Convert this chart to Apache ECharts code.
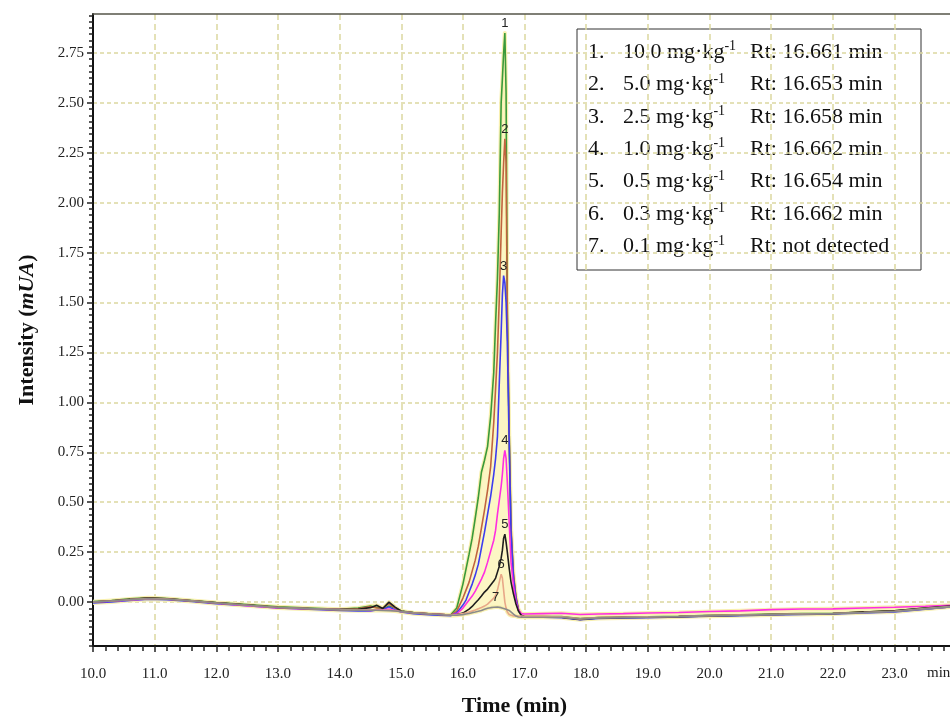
<!DOCTYPE html>
<html style="height: 100%" lang="en">

<head>
  <meta charset="utf-8">
  <script type="text/javascript" src="https://cdn.jsdelivr.net/npm/echarts@6.0.0/dist/echarts.min.js"></script>
</head>

<body style="height: 100%; margin: 0; background: #fff">
  <div id="container" style="width: 950px; height: 720px"></div>
  <script type="text/javascript">
    // retention time axis (min): coarse before/after the peak, fine across it
    var times = [
      10.0, 10.3, 10.6, 10.9, 11.2, 11.6, 12.0, 12.5, 13.0, 13.5, 14.0, 14.3, 14.5, 14.6, 14.7, 14.8, 14.9, 15.0, 15.2, 15.5, 15.8, 15.9,
      16.0, 16.05, 16.1, 16.15, 16.2, 16.25, 16.3, 16.35, 16.4, 16.45, 16.5, 16.53, 16.56, 16.59, 16.62, 16.64, 16.66, 16.68, 16.70, 16.72, 16.75, 16.78, 16.82, 16.86, 16.90, 16.95, 17.0,
      17.3, 17.6, 17.9, 18.2, 18.6, 19.0, 19.5, 20.0, 20.5, 21.0, 21.5, 22.0, 22.5, 23.0, 23.5, 23.9
    ];

    // intensity (mUA) of each spiked level, same order as times
    var s10 = [
      0.002, 0.008, 0.016, 0.022, 0.018, 0.008, -0.002, -0.013, -0.024, -0.030, -0.036, -0.030, -0.020, -0.026, -0.034, -0.020, -0.030, -0.045, -0.053, -0.060, -0.065, -0.030,
      0.09, 0.165, 0.24, 0.32, 0.42, 0.525, 0.65, 0.71, 0.78, 0.93, 1.15, 1.4, 1.62, 1.95, 2.5, 2.62, 2.75, 2.85, 2.55, 1.45, 0.85, 0.35, 0.13, 0.02, -0.04, -0.068, -0.072,
      -0.072, -0.073, -0.082, -0.077, -0.075, -0.074, -0.071, -0.066, -0.064, -0.060, -0.058, -0.056, -0.050, -0.044, -0.030, -0.020
    ];
    var s5 = [
      0.000, 0.006, 0.014, 0.020, 0.016, 0.006, -0.004, -0.015, -0.026, -0.032, -0.038, -0.034, -0.022, -0.030, -0.030, -0.008, -0.030, -0.046, -0.054, -0.060, -0.065, -0.045,
      0.02, 0.06, 0.1, 0.155, 0.21, 0.28, 0.37, 0.46, 0.56, 0.68, 0.9, 1.07, 1.25, 1.52, 1.85, 2.05, 2.2, 2.32, 2.2, 1.45, 0.85, 0.38, 0.14, 0.03, -0.035, -0.065, -0.072,
      -0.073, -0.075, -0.084, -0.078, -0.076, -0.075, -0.072, -0.067, -0.065, -0.062, -0.060, -0.057, -0.050, -0.045, -0.034, -0.024
    ];
    var s2_5 = [
      -0.005, 0.000, 0.008, 0.014, 0.012, 0.003, -0.008, -0.018, -0.030, -0.036, -0.042, -0.044, -0.044, -0.040, -0.038, -0.024, -0.040, -0.050, -0.058, -0.064, -0.068, -0.055,
      -0.015, 0.01, 0.05, 0.09, 0.135, 0.19, 0.27, 0.35, 0.44, 0.53, 0.64, 0.72, 0.83, 1.1, 1.35, 1.54, 1.635, 1.6, 1.5, 1.3, 0.8, 0.35, 0.12, 0.02, -0.04, -0.068, -0.075,
      -0.076, -0.078, -0.088, -0.082, -0.080, -0.078, -0.075, -0.071, -0.068, -0.065, -0.062, -0.060, -0.054, -0.050, -0.036, -0.025
    ];
    var s1 = [
      0.000, 0.004, 0.010, 0.016, 0.014, 0.005, -0.006, -0.018, -0.030, -0.035, -0.038, -0.040, -0.042, -0.040, -0.040, -0.035, -0.042, -0.048, -0.055, -0.060, -0.065, -0.060,
      -0.03, -0.01, 0.01, 0.03, 0.055, 0.085, 0.115, 0.15, 0.2, 0.255, 0.31, 0.36, 0.44, 0.51, 0.58, 0.64, 0.72, 0.76, 0.72, 0.6, 0.4, 0.2, 0.08, 0.0, -0.04, -0.058, -0.06,
      -0.058, -0.056, -0.062, -0.060, -0.058, -0.055, -0.052, -0.047, -0.044, -0.038, -0.035, -0.034, -0.030, -0.026, -0.021, -0.016
    ];
    var s0_5 = [
      0.000, 0.005, 0.013, 0.020, 0.016, 0.006, -0.004, -0.015, -0.027, -0.033, -0.038, -0.036, -0.028, -0.016, -0.032, 0.000, -0.025, -0.046, -0.054, -0.060, -0.065, -0.062,
      -0.055, -0.045, -0.035, -0.022, -0.005, 0.012, 0.03, 0.05, 0.065, 0.085, 0.105, 0.12, 0.15, 0.18, 0.22, 0.26, 0.32, 0.34, 0.3, 0.25, 0.17, 0.1, 0.04, -0.01, -0.045, -0.068, -0.075,
      -0.074, -0.076, -0.087, -0.080, -0.077, -0.076, -0.073, -0.069, -0.066, -0.062, -0.060, -0.058, -0.050, -0.044, -0.030, -0.020
    ];
    var s0_3 = [
      0.000, 0.005, 0.012, 0.018, 0.015, 0.006, -0.005, -0.016, -0.027, -0.033, -0.038, -0.040, -0.040, -0.040, -0.041, -0.040, -0.044, -0.047, -0.054, -0.060, -0.065, -0.063,
      -0.058, -0.055, -0.05, -0.045, -0.04, -0.033, -0.027, -0.02, -0.01, 0.005, 0.02, 0.035, 0.06, 0.1, 0.14, 0.12, 0.06, 0.0, -0.03, -0.05, -0.062, -0.068, -0.07, -0.07, -0.07, -0.07, -0.072,
      -0.072, -0.074, -0.084, -0.078, -0.076, -0.074, -0.072, -0.068, -0.065, -0.062, -0.059, -0.057, -0.052, -0.046, -0.033, -0.023
    ];
    var s0_1 = [
      0.000, 0.005, 0.012, 0.017, 0.014, 0.005, -0.005, -0.016, -0.027, -0.033, -0.039, -0.041, -0.041, -0.041, -0.042, -0.043, -0.045, -0.048, -0.055, -0.061, -0.066, -0.066,
      -0.063, -0.06, -0.057, -0.053, -0.05, -0.046, -0.042, -0.036, -0.031, -0.028, -0.026, -0.025, -0.025, -0.026, -0.028, -0.03, -0.032, -0.034, -0.036, -0.038, -0.042, -0.05, -0.06, -0.07, -0.075, -0.076, -0.076,
      -0.076, -0.076, -0.085, -0.079, -0.077, -0.075, -0.072, -0.068, -0.066, -0.063, -0.060, -0.058, -0.053, -0.047, -0.034, -0.024
    ];

    var levels = [s10, s5, s2_5, s1, s0_5, s0_3, s0_1];
    var concs = ['10.0', '5.0', '2.5', '1.0', '0.5', '0.3', '0.1'];
    var rts = ['16.661 min', '16.653 min', '16.658 min', '16.662 min', '16.654 min', '16.662 min', 'not detected'];
    var colors = ['#3a9a3a', '#c0643f', '#3c3cf0', '#ff2ee0', '#1e1e1e', '#e8a888', '#8a8a8a'];
    var xTicks = [10, 11, 12, 13, 14, 15, 16, 17, 18, 19, 20, 21, 22, 23];
    var yTicks = [0, 0.25, 0.5, 0.75, 1.0, 1.25, 1.5, 1.75, 2.0, 2.25, 2.5, 2.75];

    var serif = "'Liberation Serif', 'Times New Roman', serif";
    var xMin = 10, xMax = 23.9;
    var yMin = -0.22, yMax = 2.945;

    // small ticks between the labelled ones
    var xMinor = [];
    for (var u = 0; xMin + u * 0.2 <= xMax; u++) {
      if (u % 5) xMinor.push(+(xMin + u * 0.2).toFixed(3));
    }
    var yMinor = [];
    for (var v = -0.25; v <= yMax; v += 0.25 / 8) {
      if (v >= yMin) yMinor.push(+v.toFixed(5));
    }

    // envelope of all traces, for the yellow band behind them
    var envelope = times.map(function(t, i) {
      var col = levels.map(function(s) { return s[i]; });
      return [t, Math.min.apply(null, col), Math.max.apply(null, col)];
    });

    function pairs(arr) {
      return times.map(function(t, i) { return [t, arr[i]]; });
    }

    // apex inside the peak window, for the 1..7 tags
    function apex(arr) {
      var best = -1;
      for (var i = 0; i < times.length; i++) {
        if (times[i] >= 16 && times[i] <= 17 && (best < 0 || arr[i] > arr[best])) best = i;
      }
      return [times[best], arr[best]];
    }

    var series = [{
      type: 'custom',
      silent: true,
      z: 1,
      clip: true,
      data: envelope,
      encode: { x: 0, y: [1, 2] },
      renderItem: function(params, api) {
        if (params.dataIndex !== 0) return null;
        var top = envelope.map(function(e) { return api.coord([e[0], e[2]]); });
        var bot = envelope.map(function(e) { return api.coord([e[0], e[1]]); });
        var halo = { stroke: '#f8f0b0', lineWidth: 4, fill: 'none', lineJoin: 'round' };
        return {
          type: 'group',
          children: [{
            type: 'polygon',
            shape: { points: top.concat(bot.slice().reverse()) },
            style: { fill: '#fcf6c4' }
          }, {
            type: 'polyline', shape: { points: top }, style: halo
          }, {
            type: 'polyline', shape: { points: bot }, style: halo
          }]
        };
      }
    }];

    levels.forEach(function(arr, k) {
      series.push({
        name: concs[k],
        type: 'line',
        symbol: 'none',
        z: 3,
        data: pairs(arr),
        lineStyle: { width: 1.6, color: colors[k] },
        markPoint: {
          symbol: 'circle',
          symbolSize: 0,
          silent: true,
          label: {
            show: true, position: 'top', distance: 3,
            formatter: String(k + 1),
            color: '#222', fontSize: 13, fontFamily: 'Liberation Sans'
          },
          data: [{ coord: apex(arr) }]
        }
      });
    });

    var legendItems = [{
      type: 'rect',
      shape: { x: 577, y: 29, width: 344, height: 241 },
      style: { fill: 'none', stroke: '#333', lineWidth: 1 }
    }];
    concs.forEach(function(c, k) {
      var y = 52 + k * 32.4;
      legendItems.push({
        type: 'text', x: 588, y: y,
        style: {
          text: '{n|' + (k + 1) + '.}{c|' + c + ' mg·kg}{s|-1}',
          verticalAlign: 'middle',
          rich: {
            n: { width: 35, fontSize: 22, fontFamily: serif, fill: '#111', lineHeight: 25 },
            c: { fontSize: 22, fontFamily: serif, fill: '#111', lineHeight: 25 },
            s: { fontSize: 14, fontFamily: serif, fill: '#111', verticalAlign: 'top', lineHeight: 14 }
          }
        }
      });
      legendItems.push({
        type: 'text', x: 750, y: y,
        style: { text: 'Rt: ' + rts[k], font: '22px ' + serif, fill: '#111', verticalAlign: 'middle' }
      });
    });

    var dom = document.getElementById('container');
    var myChart = echarts.init(dom);

    var tickStyle = { color: '#222', width: 1.5 };
    var gridColor = '#dcd8a0';

    var option = {
      backgroundColor: '#fff',
      animation: false,
      grid: { left: 93, right: 0, top: 14, bottom: 74, containLabel: false, outerBoundsMode: 'none' },
      xAxis: [{
        type: 'value', min: xMin, max: xMax,
        name: 'Time (min)', nameLocation: 'middle', nameGap: 49,
        nameTextStyle: { fontSize: 22, fontWeight: 'bold', fontFamily: serif, color: '#111', padding: [0, 14, 0, 0] },
        axisLine: { onZero: false, lineStyle: { color: '#111', width: 2 } },
        axisTick: { show: true, length: 6, customValues: xTicks, lineStyle: tickStyle },
        axisLabel: {
          customValues: xTicks, margin: 21, fontSize: 15, fontFamily: serif, color: '#222',
          formatter: function(v) { return v.toFixed(1); }
        },
        splitLine: { show: true, lineStyle: { color: gridColor, width: 1.5, type: [6, 4] } }
      }, {
        type: 'value', min: xMin, max: xMax, position: 'top',
        axisLine: { show: true, onZero: false, lineStyle: { color: '#55554a', width: 1.5 } },
        axisTick: { show: false }, axisLabel: { show: false }, splitLine: { show: false }
      }, {
        type: 'value', min: xMin, max: xMax, position: 'bottom',
        axisLine: { show: false, onZero: false },
        axisTick: { show: true, length: 5, customValues: xMinor, lineStyle: tickStyle },
        axisLabel: { show: false }, splitLine: { show: false }
      }],
      yAxis: [{
        type: 'value', min: yMin, max: yMax,
        name: 'Intensity ({i|mUA})', nameLocation: 'middle', nameGap: 55,
        nameTextStyle: {
          fontSize: 22, fontWeight: 'bold', fontFamily: serif, color: '#111',
          rich: { i: { fontSize: 22, fontWeight: 'bold', fontStyle: 'italic', fontFamily: serif, color: '#111' } }
        },
        axisLine: { show: true, onZero: false, lineStyle: { color: '#111', width: 2 } },
        axisTick: { show: true, length: 6, customValues: yTicks, lineStyle: tickStyle },
        axisLabel: {
          customValues: yTicks, margin: 9, fontSize: 15, fontFamily: serif, color: '#222',
          formatter: function(v) { return v.toFixed(2); }
        },
        splitLine: { show: true, lineStyle: { color: gridColor, width: 1.5, type: [4, 3] } }
      }, {
        type: 'value', min: yMin, max: yMax, position: 'left',
        axisLine: { show: false, onZero: false },
        axisTick: { show: true, length: 4, customValues: yMinor, lineStyle: tickStyle },
        axisLabel: { show: false }, splitLine: { show: false }
      }],
      graphic: [{
        type: 'group', z: 100, children: legendItems
      }, {
        type: 'text', x: 927, y: 673, z: 100,
        style: { text: 'min', font: '15px ' + serif, fill: '#222', verticalAlign: 'middle' }
      }],
      series: series
    };

    myChart.setOption(option);
  </script>
</body>

</html>
